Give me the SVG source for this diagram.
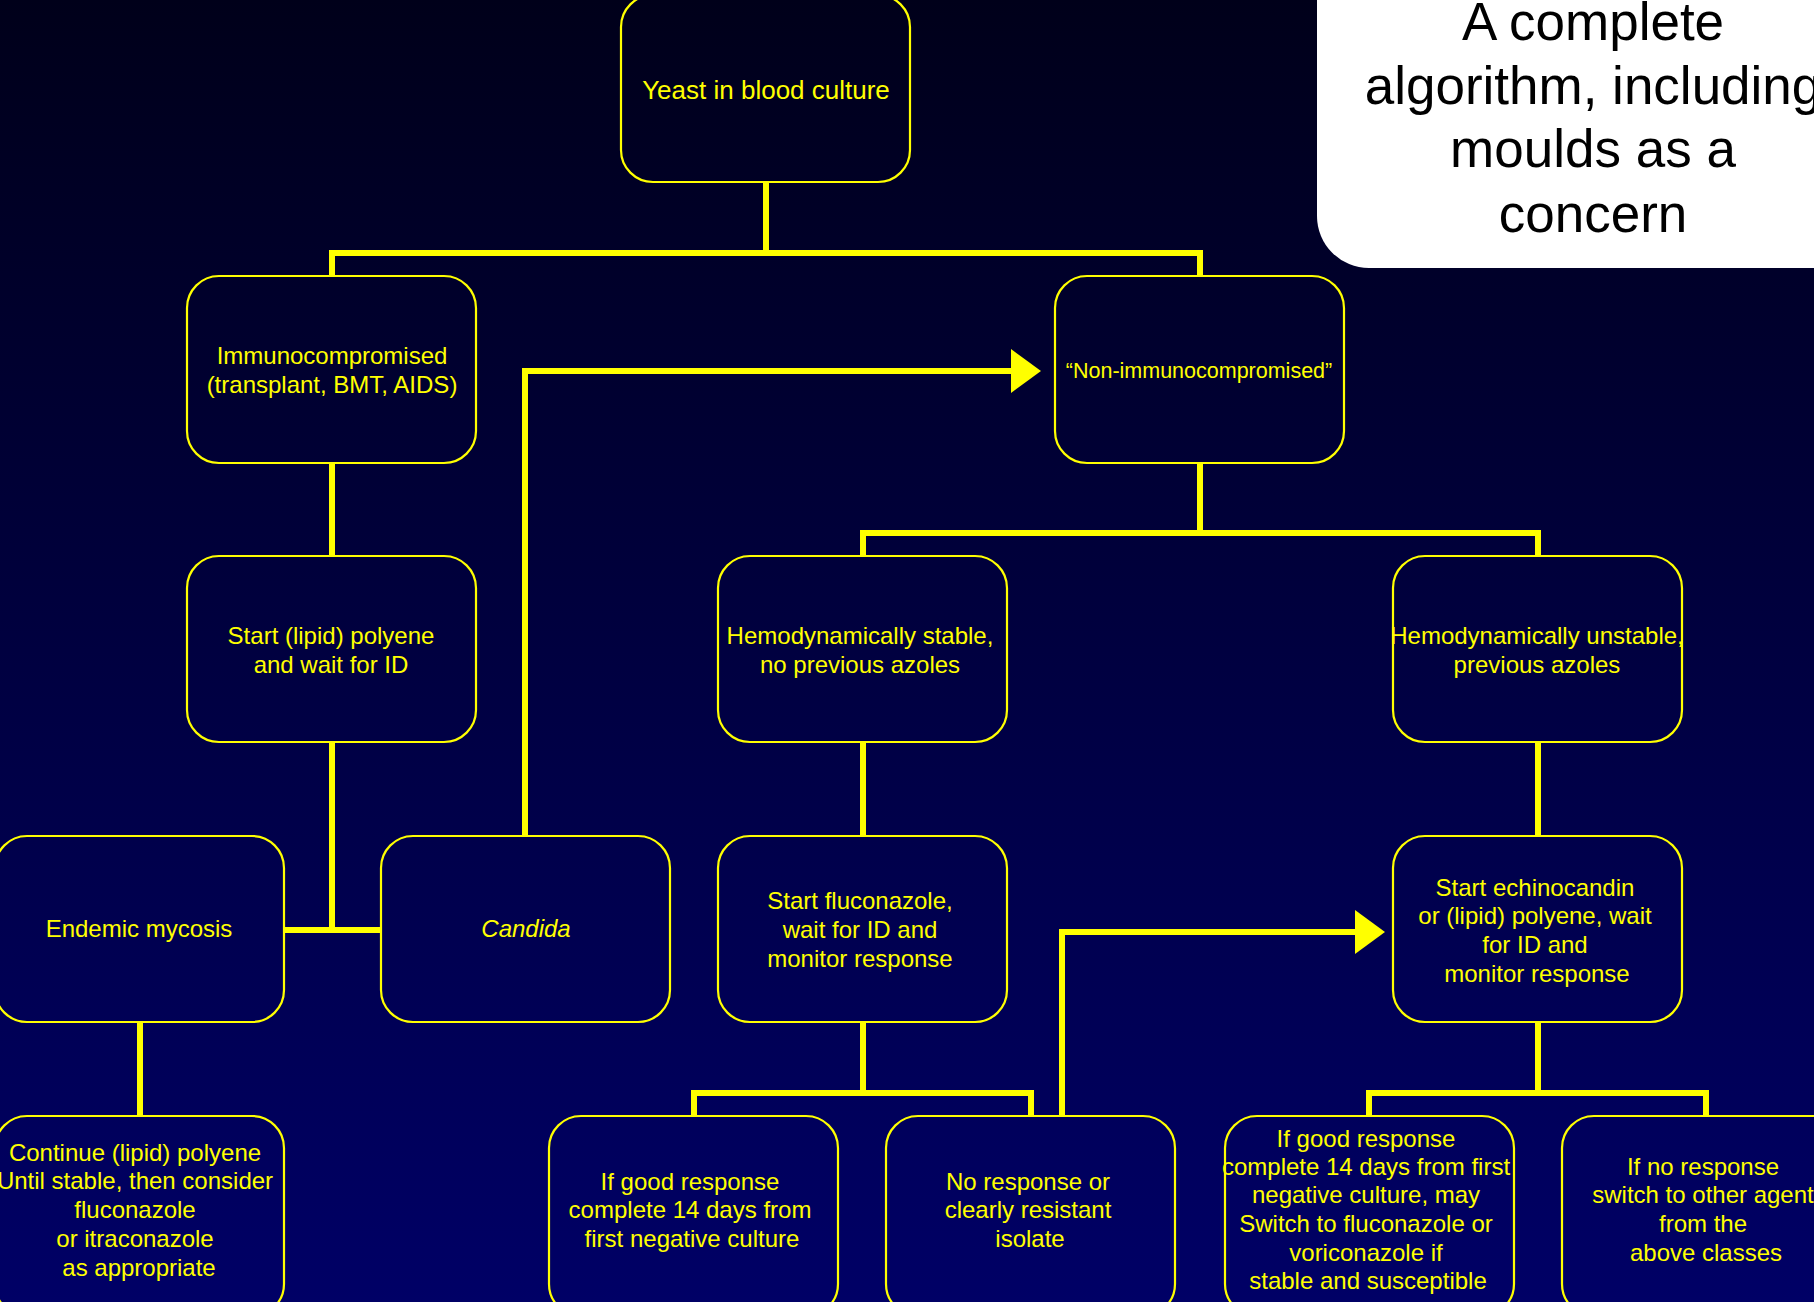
<svg xmlns="http://www.w3.org/2000/svg" width="1814" height="1302" viewBox="0 0 1814 1302">
<defs>
<linearGradient id="bg" x1="0" y1="0" x2="0" y2="1">
<stop offset="0" stop-color="#00001a"/>
<stop offset="1" stop-color="#000066"/>
</linearGradient>
<marker id="arrow" markerUnits="userSpaceOnUse" markerWidth="30" markerHeight="44" viewBox="0 0 30 44" refX="0" refY="22" orient="auto">
<path d="M0,0 L30,22 L0,44 Z" fill="#ffff00"/>
</marker>
</defs>
<style>
.box{fill:none;stroke:#ffff00;stroke-width:2.2}
.t{font-family:"Liberation Sans",Arial,sans-serif;font-size:24px;fill:#ffff00;text-anchor:middle}
.conn{fill:none;stroke:#ffff00;stroke-width:6;stroke-linejoin:miter}
.title{font-family:"Liberation Sans",Arial,sans-serif;font-size:53px;fill:#000000;text-anchor:middle}
</style>
<rect x="0" y="0" width="1814" height="1302" fill="url(#bg)"/>

<g id="title">
<rect x="1317" y="-100" width="600" height="368" rx="52" fill="#ffffff"/>
<text class="title" x="1593" y="40">A complete</text>
<text class="title" x="1593" y="104">algorithm, including</text>
<text class="title" x="1593" y="167">moulds as a</text>
<text class="title" x="1593" y="232">concern</text>
</g>

<g id="connectors">
<path class="conn" d="M766,182 V253"/>
<path class="conn" d="M332,275 V253 H1200 V275"/>
<path class="conn" d="M332,463 V556"/>
<path class="conn" d="M332,742 V930"/>
<path class="conn" d="M284,930 H381"/>
<path class="conn" d="M140,1022 V1116"/>
<path class="conn" d="M525,836 V371 H1011" marker-end="url(#arrow)"/>
<path class="conn" d="M1200,463 V533"/>
<path class="conn" d="M863,556 V533 H1538 V556"/>
<path class="conn" d="M863,742 V836"/>
<path class="conn" d="M1538,742 V836"/>
<path class="conn" d="M863,1022 V1093"/>
<path class="conn" d="M694,1116 V1093 H1031 V1116"/>
<path class="conn" d="M1062,1116 V932 H1355" marker-end="url(#arrow)"/>
<path class="conn" d="M1538,1022 V1093"/>
<path class="conn" d="M1369,1116 V1093 H1706 V1116"/>
</g>

<g id="n-yeast">
<rect class="box" x="621" y="-5" width="289" height="187" rx="32"/>
<text class="t" x="766" y="99" style="font-size:26px">Yeast in blood culture</text>
</g>

<g id="n-immuno">
<rect class="box" x="187" y="276" width="289" height="187" rx="32"/>
<text class="t" x="332" y="364">Immunocompromised</text>
<text class="t" x="332" y="393">(transplant, BMT, AIDS)</text>
</g>

<g id="n-nonimmuno">
<rect class="box" x="1055" y="276" width="289" height="187" rx="32"/>
<text class="t" x="1199" y="378" style="font-size:21.5px">“Non-immunocompromised”</text>
</g>

<g id="n-polyene">
<rect class="box" x="187" y="556" width="289" height="186" rx="32"/>
<text class="t" x="331" y="644">Start (lipid) polyene</text>
<text class="t" x="331" y="673">and wait for ID</text>
</g>

<g id="n-stable">
<rect class="box" x="718" y="556" width="289" height="186" rx="32"/>
<text class="t" x="860" y="644">Hemodynamically stable,</text>
<text class="t" x="860" y="673">no previous azoles</text>
</g>

<g id="n-unstable">
<rect class="box" x="1393" y="556" width="289" height="186" rx="32"/>
<text class="t" x="1537" y="644">Hemodynamically unstable,</text>
<text class="t" x="1537" y="673">previous azoles</text>
</g>

<g id="n-endemic">
<rect class="box" x="-5" y="836" width="289" height="186" rx="32"/>
<text class="t" x="139" y="937">Endemic mycosis</text>
</g>

<g id="n-candida">
<rect class="box" x="381" y="836" width="289" height="186" rx="32"/>
<text class="t" x="526" y="937" style="font-style:italic">Candida</text>
</g>

<g id="n-fluconazole">
<rect class="box" x="718" y="836" width="289" height="186" rx="32"/>
<text class="t" x="860" y="909">Start fluconazole,</text>
<text class="t" x="860" y="938">wait for ID and</text>
<text class="t" x="860" y="967">monitor response</text>
</g>

<g id="n-echinocandin">
<rect class="box" x="1393" y="836" width="289" height="186" rx="32"/>
<text class="t" x="1535" y="896">Start echinocandin</text>
<text class="t" x="1535" y="924">or (lipid) polyene, wait</text>
<text class="t" x="1535" y="953">for ID and</text>
<text class="t" x="1537" y="982">monitor response</text>
</g>

<g id="n-continue">
<rect class="box" x="-5" y="1116" width="289" height="200" rx="32"/>
<text class="t" x="135" y="1161">Continue (lipid) polyene</text>
<text class="t" x="135" y="1189">Until stable, then consider</text>
<text class="t" x="135" y="1218">fluconazole</text>
<text class="t" x="135" y="1247">or itraconazole</text>
<text class="t" x="139" y="1276">as appropriate</text>
</g>

<g id="n-good-left">
<rect class="box" x="549" y="1116" width="289" height="200" rx="32"/>
<text class="t" x="690" y="1190">If good response</text>
<text class="t" x="690" y="1218">complete 14 days from</text>
<text class="t" x="692" y="1247">first negative culture</text>
</g>

<g id="n-noresponse">
<rect class="box" x="886" y="1116" width="289" height="200" rx="32"/>
<text class="t" x="1028" y="1190">No response or</text>
<text class="t" x="1028" y="1218">clearly resistant</text>
<text class="t" x="1030" y="1247">isolate</text>
</g>

<g id="n-good-right">
<rect class="box" x="1225" y="1116" width="289" height="200" rx="32"/>
<text class="t" x="1366" y="1147">If good response</text>
<text class="t" x="1366" y="1175">complete 14 days from first</text>
<text class="t" x="1366" y="1203">negative culture, may</text>
<text class="t" x="1366" y="1232">Switch to fluconazole or</text>
<text class="t" x="1366" y="1261">voriconazole if</text>
<text class="t" x="1368" y="1289">stable and susceptible</text>
</g>

<g id="n-noresponse-right">
<rect class="box" x="1562" y="1116" width="289" height="200" rx="32"/>
<text class="t" x="1703" y="1175">If no response</text>
<text class="t" x="1703" y="1203">switch to other agent</text>
<text class="t" x="1703" y="1232">from the</text>
<text class="t" x="1706" y="1261">above classes</text>
</g>
</svg>
